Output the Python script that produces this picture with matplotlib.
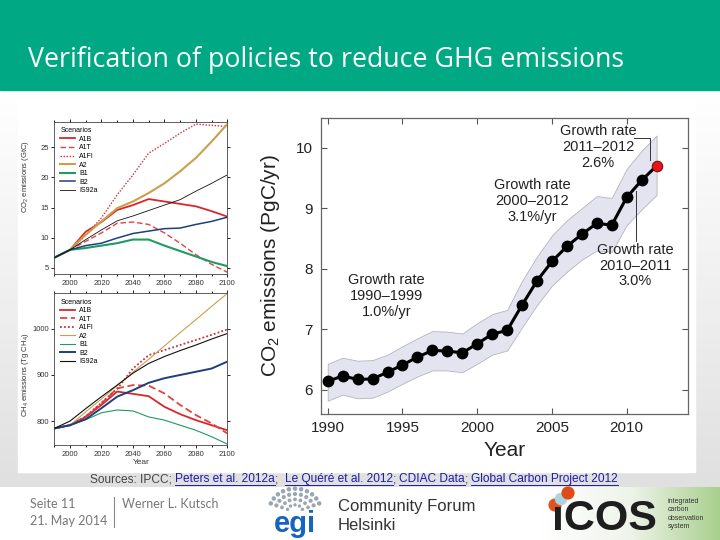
import numpy as np
import matplotlib.pyplot as plt
from matplotlib.colors import LinearSegmentedColormap

plt.rcParams['font.family'] = ['Liberation Sans', 'DejaVu Sans']
plt.rcParams['mathtext.fontset'] = 'custom'
plt.rcParams['mathtext.rm'] = 'Liberation Sans'
plt.rcParams['mathtext.it'] = 'Liberation Sans:italic'

# Global carbon project: fossil CO2 emissions (PgC/yr) with uncertainty band
gcp_years = list(range(1990, 2013))
gcp_emis = [6.14, 6.23, 6.17, 6.18, 6.29, 6.41, 6.54, 6.65, 6.64, 6.61, 6.76, 6.92,
            6.98, 7.40, 7.80, 8.12, 8.37, 8.57, 8.75, 8.72, 9.18, 9.46, 9.70]
gcp_high = [6.43, 6.53, 6.48, 6.49, 6.58, 6.72, 6.85, 6.97, 6.96, 6.93, 7.10, 7.25,
            7.32, 7.80, 8.20, 8.55, 8.80, 9.00, 9.20, 9.17, 9.65, 9.95, 10.20]
gcp_low = [5.82, 5.92, 5.86, 5.87, 5.97, 6.10, 6.22, 6.32, 6.32, 6.29, 6.43, 6.58,
           6.65, 7.03, 7.40, 7.72, 7.95, 8.15, 8.30, 8.28, 8.72, 8.98, 9.22]

# IPCC SRES scenarios
sres_years = [1990, 2000, 2010, 2020, 2030, 2040, 2050, 2060, 2070, 2080, 2090, 2100]
scen_names = ['A1B', 'A1T', 'A1FI', 'A2', 'B1', 'B2', 'IS92a']

co2_a1b = [6.7, 8.0, 11.0, 12.6, 14.6, 15.4, 16.4, 16.0, 15.6, 15.2, 14.4, 13.5]
co2_a1t = [6.7, 8.0, 9.4, 10.8, 12.4, 12.6, 12.2, 10.8, 9.1, 7.2, 5.6, 4.3]
co2_a1fi = [6.7, 8.0, 10.4, 13.3, 17.1, 20.4, 24.0, 25.6, 27.3, 28.8, 28.6, 28.4]
co2_a2 = [6.7, 8.0, 10.5, 12.7, 14.9, 16.0, 17.4, 19.0, 21.0, 23.2, 25.9, 28.8]
co2_b1 = [6.7, 8.0, 8.3, 8.7, 9.1, 9.7, 9.7, 8.7, 7.8, 6.9, 6.0, 5.3]
co2_b2 = [6.7, 8.0, 8.7, 9.1, 9.95, 10.7, 11.1, 11.5, 11.6, 12.2, 12.7, 13.4]
co2_is92a = [6.7, 8.0, 9.7, 11.3, 12.8, 13.6, 14.5, 15.4, 16.3, 17.7, 19.0, 20.4]

ch4_a1b = [784, 791, 809, 835, 864, 859, 854, 831, 815, 802, 791, 780]
ch4_a1t = [784, 791, 810, 838, 871, 878, 877, 860, 835, 813, 795, 773]
ch4_a1fi = [784, 791, 810, 840, 870, 914, 943, 954, 965, 976, 987, 999]
ch4_a2 = [784, 791, 820, 848, 877, 906, 934, 963, 992, 1020, 1049, 1077]
ch4_b1 = [784, 791, 803, 818, 824, 822, 809, 802, 791, 780, 766, 750]
ch4_b2 = [784, 791, 804, 828, 853, 867, 883, 893, 900, 907, 914, 929]
ch4_is92a = [784, 800, 827, 853, 878, 904, 925, 940, 953, 965, 978, 990]

co2_series = [co2_a1b, co2_a1t, co2_a1fi, co2_a2, co2_b1, co2_b2, co2_is92a]
ch4_series = [ch4_a1b, ch4_a1t, ch4_a1fi, ch4_a2, ch4_b1, ch4_b2, ch4_is92a]
scen_colors = ['#d9262c', '#e0453d', '#c8323a', '#c9a04c', '#1f9a62', '#1d3f7c', '#111111']
scen_styles = ['-', (0, (4, 2)), (0, (1, 1.2)), '-', '-', '-', '-']
co2_widths = [1.3, 1.0, 1.0, 1.5, 1.5, 1.1, 0.6]
ch4_widths = [1.3, 1.3, 1.3, 0.8, 0.8, 1.4, 0.8]

fig = plt.figure(figsize=(7.2, 5.4), dpi=100)

# ---- slide background (pixel coordinates) ----
bg = fig.add_axes([0, 0, 1, 1])
bg.axis('off')
grad = np.linspace(0, 1, 200)[:, None]
bg.imshow(grad, extent=(0, 720, 487, 90), aspect='auto', zorder=0,
          cmap=LinearSegmentedColormap.from_list('g', ['#ffffff', '#f0f0f0', '#e0e0e0']))
hgrad = np.linspace(0, 1, 200)[None, :]
bg.imshow(hgrad, extent=(540, 720, 540, 487), aspect='auto', zorder=0,
          cmap=LinearSegmentedColormap.from_list('gr', ['#ffffff', '#eef4ea', '#a9cf8e']))
bg.add_patch(plt.Rectangle((18, 100), 677, 372, color='white', zorder=1))
bg.add_patch(plt.Rectangle((0, 0), 720, 90, color='#00a884', zorder=1))
bg.text(28, 60, 'Verification of policies to reduce GHG emissions', color='white',
        fontsize=19.3, family=['Open Sans', 'DejaVu Sans'], va='center', ha='left', zorder=2)

# footer
bg.text(30, 504, 'Seite 11', color='#777777', fontsize=9, family=['Lato', 'DejaVu Sans'], va='center')
bg.text(30, 521, '21. May 2014', color='#777777', fontsize=9, family=['Lato', 'DejaVu Sans'], va='center')
bg.plot([114, 114], [497, 527], color='#888888', lw=0.8)
bg.text(122, 504, 'Werner L. Kutsch', color='#777777', fontsize=9, family=['Lato', 'DejaVu Sans'], va='center')

# EGI logo
for r, n in [(8, 5), (14, 7), (20, 9), (26, 11)]:
    ang = np.linspace(np.pi * 0.12, np.pi * 0.88, n)
    bg.scatter(295 + r * np.cos(ang), 512 - r * np.sin(ang) * 0.9, s=4 + r * 0.25,
               color='#9aa6b2', edgecolors='none', zorder=3)
bg.text(295, 524, 'egi', color='#1565c0', fontsize=21, fontweight='bold', ha='center', va='center')
bg.text(338, 507, 'Community Forum', color='#333333', fontsize=12, ha='left', va='center')
bg.text(338, 526, 'Helsinki', color='#333333', fontsize=12, ha='left', va='center')

# ICOS logo
bg.scatter([555, 561, 568], [505, 499, 493], s=[90, 80, 90],
           color=['#e2521e', '#a8d4e6', '#e04a1a'], edgecolors='none', zorder=3)
bg.text(604, 519, '\u0131COS', color='#1e1e1e', fontsize=31, fontweight='bold', ha='center', va='center')
bg.text(668, 514, 'integrated\ncarbon\nobservation\nsystem', color='#333333', fontsize=5,
        ha='left', va='center', linespacing=1.3)

bg.set_xlim(0, 720)
bg.set_ylim(540, 0)

# sources line with underlined links
renderer = fig.canvas.get_renderer()
pieces = [('Sources: IPCC; ', False), ('Peters et al. 2012a', True), (';  ', False),
          ('Le Qu\u00e9r\u00e9 et al. 2012', True), ('; ', False), ('CDIAC Data', True),
          ('; ', False), ('Global Carbon Project 2012', True)]
xpos = 90
for txt, link in pieces:
    t = bg.text(xpos, 479, txt, fontsize=8.6, ha='left', va='center',
                color='#1c1ca8' if link else '#444444', zorder=3)
    w = t.get_window_extent(renderer=renderer).width
    if link:
        bg.plot([xpos, xpos + w], [484.5, 484.5], color='#1c1ca8', lw=0.7, zorder=3)
    xpos += w

# ---- right panel: GCP emissions ----
ax = fig.add_axes([321 / 720, 1 - 414 / 540, 367 / 720, 296 / 540])
ax.fill_between(gcp_years, gcp_low, gcp_high, facecolor='#e3e4ef', edgecolor='#b4b4be', lw=0.6)
ax.plot(gcp_years[:-1], gcp_emis[:-1], color='black', lw=2.2, marker='o', ms=7.5)
ax.plot(gcp_years[-2:], gcp_emis[-2:], color='black', lw=2.2)
ax.plot(gcp_years[-1], gcp_emis[-1], 'o', ms=7.5, mfc='#e8131b', mec='#7a1010', mew=0.8)
ax.set_xlim(1989.55, 2014.1)
ax.set_ylim(5.6, 10.49)
ax.set_xticks([1990, 1995, 2000, 2005, 2010])
ax.set_yticks([6, 7, 8, 9, 10])
ax.tick_params(direction='in', top=True, right=True, length=4, width=0.8,
               labelsize=11, colors='#555555', labelcolor='#222222')
ax.tick_params(axis='y', pad=6)
ax.tick_params(axis='x', pad=5)
for s in ax.spines.values():
    s.set_color('#666666')
    s.set_linewidth(0.9)
ax.set_ylabel('CO$_2$ emissions (PgC/yr)', fontsize=15, color='#222222')
ax.yaxis.set_label_coords(-0.105, 0.5)
ax.set_xlabel('Year', fontsize=15, color='#222222')
ax.xaxis.set_label_coords(0.5, -0.09)

notes = [('Growth rate\n2011\u20132012\n2.6%', 2008.1, 10.01),
         ('Growth rate\n2000\u20132012\n3.1%/yr', 2003.7, 9.12),
         ('Growth rate\n2010\u20132011\n3.0%', 2010.56, 8.05),
         ('Growth rate\n1990\u20131999\n1.0%/yr', 1993.95, 7.55)]
for txt, x, y in notes:
    ax.text(x, y, txt, fontsize=10.5, color='#222222', ha='center', va='center', linespacing=1.15)
ax.plot([2010.5, 2011.56, 2011.56], [10.16, 10.16, 9.79], color='#333333', lw=0.7)
ax.plot([2010.6, 2010.6], [9.28, 8.45], color='#333333', lw=0.7)

# ---- left panels: SRES scenarios ----
def scen_panel(rect, series, widths, ylim, yticks, ylabel, ylabel_y, show_xlabel):
    a = fig.add_axes(rect)
    for name, vals, c, ls, lw in zip(scen_names, series, scen_colors, scen_styles, widths):
        a.plot(sres_years, vals, color=c, ls=ls, lw=lw, label=name)
    a.set_xlim(1990, 2100)
    a.set_ylim(*ylim)
    a.set_xticks([2000, 2020, 2040, 2060, 2080, 2100])
    a.set_xticks(range(1990, 2101, 10), minor=True)
    a.set_yticks(yticks)
    a.tick_params(which='both', direction='out', top=True, right=True, length=2.5,
                  width=0.6, labelsize=5.5, pad=1.5, labelcolor='#333333')
    a.tick_params(which='minor', length=1.5)
    for s in a.spines.values():
        s.set_linewidth(0.6)
        s.set_color('#444444')
    a.set_ylabel(ylabel, fontsize=5.5, color='#333333')
    a.yaxis.set_label_coords(-0.135, ylabel_y)
    if show_xlabel:
        a.set_xlabel('Year', fontsize=6, color='#333333', labelpad=1)
    leg = a.legend(loc='upper left', bbox_to_anchor=(0.01, 0.99), frameon=False, fontsize=5,
                   title='Scenarios', title_fontsize=5, labelspacing=0.22, handlelength=2.2,
                   handletextpad=0.5, borderaxespad=0.2)
    leg._legend_box.align = 'left'
    return a

scen_panel([54.3 / 720, 1 - 274 / 540, 173 / 720, 152.3 / 540], co2_series, co2_widths,
           (4, 29.2), [5, 10, 15, 20, 25], 'CO$_2$ emissions (GtC)', 0.64, False)
scen_panel([54.3 / 720, 1 - 445 / 540, 173 / 720, 152 / 540], ch4_series, ch4_widths,
           (748, 1078), [800, 900, 1000], 'CH$_4$ emissions (Tg CH$_4$)', 0.46, True)

fig.savefig('out.png', dpi=100)
